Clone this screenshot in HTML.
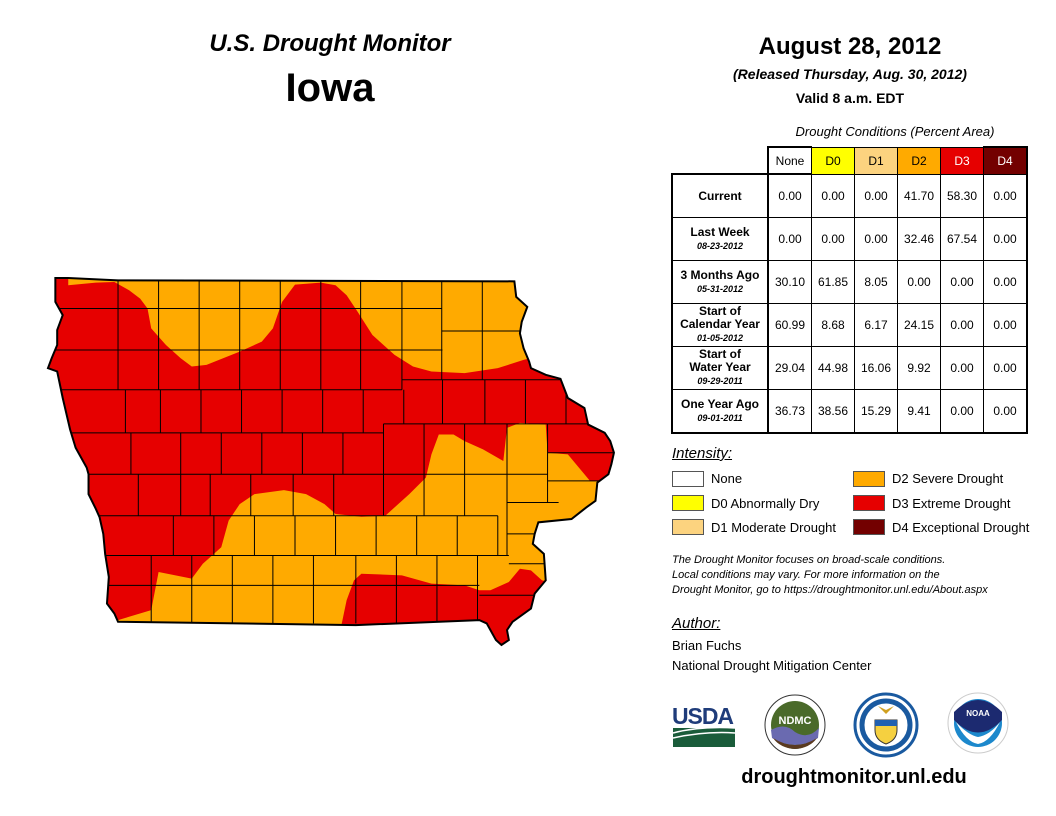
<!DOCTYPE html>
<html><head><meta charset="utf-8">
<style>
body{margin:0;width:1056px;height:816px;background:#fff;position:relative;overflow:hidden;font-family:"Liberation Sans",sans-serif;color:#000}
.t{position:absolute;white-space:nowrap}
table{position:absolute;left:671px;top:146px;border-collapse:collapse;font-size:12px}
td{border:1px solid #000;text-align:center;height:42px;width:42px;padding:0}
tr.h td{height:25px}
td.lab{width:94px;font-weight:bold;font-size:12px;line-height:13px}
td.lab i{font-size:9px;font-weight:bold}
.tb{border:2px solid #000}
.sw{position:absolute;width:30px;height:14px;border:1px solid #555}
.lg{position:absolute;font-size:13px}
</style></head><body>
<div class="t" style="left:180px;top:30px;width:300px;text-align:center;font-size:24px;font-weight:bold;font-style:italic">U.S. Drought Monitor</div>
<div class="t" style="left:180px;top:66px;width:300px;text-align:center;font-size:40px;font-weight:bold">Iowa</div>
<div class="t" style="left:700px;top:33px;width:300px;text-align:center;font-size:24px;font-weight:bold">August 28, 2012</div>
<div class="t" style="left:700px;top:66px;width:300px;text-align:center;font-size:14px;font-weight:bold;font-style:italic">(Released Thursday, Aug. 30, 2012)</div>
<div class="t" style="left:700px;top:90px;width:300px;text-align:center;font-size:14px;font-weight:bold">Valid 8 a.m. EDT</div>
<div class="t" style="left:760px;top:124px;width:270px;text-align:center;font-size:13px;font-style:italic">Drought Conditions (Percent Area)</div>

<table>
<tr class="h"><td style="border:none;border-bottom:2px solid #000"></td><td class="tb" style="border-right:1px solid #000">None</td><td style="background:#ffff00">D0</td><td style="background:#fcd37f">D1</td><td style="background:#ffaa00">D2</td><td style="background:#e60000;color:#fff">D3</td><td style="background:#730000;color:#fff;border-right:2px solid #000;border-top:2px solid #000">D4</td></tr>
<tr><td class="lab" style="border-left:2px solid #000;border-right:2px solid #000">Current</td><td>0.00</td><td>0.00</td><td>0.00</td><td>41.70</td><td>58.30</td><td style="border-right:2px solid #000">0.00</td></tr>
<tr><td class="lab" style="border-left:2px solid #000;border-right:2px solid #000">Last Week<br><i>08-23-2012</i></td><td>0.00</td><td>0.00</td><td>0.00</td><td>32.46</td><td>67.54</td><td style="border-right:2px solid #000">0.00</td></tr>
<tr><td class="lab" style="border-left:2px solid #000;border-right:2px solid #000">3 Months Ago<br><i>05-31-2012</i></td><td>30.10</td><td>61.85</td><td>8.05</td><td>0.00</td><td>0.00</td><td style="border-right:2px solid #000">0.00</td></tr>
<tr><td class="lab" style="border-left:2px solid #000;border-right:2px solid #000">Start of<br>Calendar Year<br><i>01-05-2012</i></td><td>60.99</td><td>8.68</td><td>6.17</td><td>24.15</td><td>0.00</td><td style="border-right:2px solid #000">0.00</td></tr>
<tr><td class="lab" style="border-left:2px solid #000;border-right:2px solid #000">Start of<br>Water Year<br><i>09-29-2011</i></td><td>29.04</td><td>44.98</td><td>16.06</td><td>9.92</td><td>0.00</td><td style="border-right:2px solid #000">0.00</td></tr>
<tr><td class="lab" style="border-left:2px solid #000;border-right:2px solid #000;border-bottom:2px solid #000">One Year Ago<br><i>09-01-2011</i></td><td style="border-bottom:2px solid #000">36.73</td><td style="border-bottom:2px solid #000">38.56</td><td style="border-bottom:2px solid #000">15.29</td><td style="border-bottom:2px solid #000">9.41</td><td style="border-bottom:2px solid #000">0.00</td><td style="border-right:2px solid #000;border-bottom:2px solid #000">0.00</td></tr>
</table>

<div class="t" style="left:672px;top:445px;font-size:15px;font-style:italic;text-decoration:underline">Intensity:</div>
<div class="sw" style="left:672px;top:471px;background:#fff"></div>
<div class="lg" style="left:711px;top:471px">None</div>
<div class="sw" style="left:672px;top:495px;background:#ffff00"></div>
<div class="lg" style="left:711px;top:496px">D0 Abnormally Dry</div>
<div class="sw" style="left:672px;top:519px;background:#fcd37f"></div>
<div class="lg" style="left:711px;top:520px">D1 Moderate Drought</div>
<div class="sw" style="left:853px;top:471px;background:#ffaa00"></div>
<div class="lg" style="left:892px;top:471px">D2 Severe Drought</div>
<div class="sw" style="left:853px;top:495px;background:#e60000"></div>
<div class="lg" style="left:892px;top:496px">D3 Extreme Drought</div>
<div class="sw" style="left:853px;top:519px;background:#730000"></div>
<div class="lg" style="left:892px;top:520px">D4 Exceptional Drought</div>

<div class="t" style="left:672px;top:553px;font-size:11px;font-style:italic;line-height:15px">The Drought Monitor focuses on broad-scale conditions.<br>Local conditions may vary. For more information on the<br>Drought Monitor, go to https://droughtmonitor.unl.edu/About.aspx</div>
<div class="t" style="left:672px;top:615px;font-size:15px;font-style:italic;text-decoration:underline">Author:</div>
<div class="t" style="left:672px;top:636px;font-size:13px;line-height:20px">Brian Fuchs<br>National Drought Mitigation Center</div>
<div class="t" style="left:700px;top:766px;width:308px;text-align:center;font-size:20px;font-weight:bold">droughtmonitor.unl.edu</div>

<svg width="1056" height="816" style="position:absolute;left:0;top:0">
<g>
<text x="672" y="724" font-family="Liberation Sans" font-size="23" font-weight="bold" fill="#1f3c7a" textLength="62">USDA</text>
<rect x="673" y="728" width="62" height="19" fill="#1a5c3a"/>
<path d="M673 733 Q700 726 735 728 M673 738 Q705 731 735 733" stroke="#fff" stroke-width="1.5" fill="none"/>
</g>
<g>
<circle cx="795" cy="725" r="30" fill="#fff" stroke="#333" stroke-width="1"/>
<circle cx="795" cy="725" r="24" fill="#4a6a2a"/>
<path d="M771 730 Q785 722 795 732 Q808 740 819 728 L818 738 Q795 752 772 738Z" fill="#6a6ab0"/>
<path d="M773 738 Q795 752 817 738 Q810 748 795 749 Q780 748 773 738Z" fill="#5a3a20"/>
<text x="795" y="724" font-size="11" font-weight="bold" fill="#fff" text-anchor="middle" font-family="Liberation Sans">NDMC</text>
</g>
<g>
<circle cx="886" cy="725" r="31" fill="#fff" stroke="#1a5aa0" stroke-width="3"/>
<circle cx="886" cy="725" r="24" fill="#fff" stroke="#1a5aa0" stroke-width="5"/>
<path d="M875 720 h22 v10 q0 10 -11 14 q-11 -4 -11 -14z" fill="#f5d040" stroke="#333" stroke-width="1"/>
<rect x="875" y="720" width="22" height="6" fill="#2060b0"/>
<path d="M878 706 l8 8 l8 -8 l-8 4z" fill="#d0a020"/>
</g>
<g>
<circle cx="978" cy="723" r="30" fill="#fff" stroke="#ccc" stroke-width="1"/>
<circle cx="978" cy="723" r="24" fill="#1c88cc"/>
<path d="M954 720 Q978 745 1002 720 L1002 712 Q990 700 978 700 Q966 700 954 712Z" fill="#1c2a70"/>
<path d="M956 722 Q968 735 978 737 Q990 735 1000 722 Q990 742 978 744 Q966 742 956 722Z" fill="#fff"/>
<text x="978" y="716" font-size="8" font-weight="bold" fill="#fff" text-anchor="middle" font-family="Liberation Sans">NOAA</text>
</g>
</svg>

<svg id="map" width="1056" height="816" style="position:absolute;left:0;top:0">
<defs><clipPath id="iaclip"><polygon id="clipPoly" transform="translate(40.6,262.1) scale(0.3687,0.3315)" points="40,48 75,48 210,55 1285,58 1290,105 1320,135 1305,180 1300,215 1310,260 1325,300 1330,320 1370,340 1410,352 1430,410 1475,440 1485,490 1530,515 1545,540 1555,575 1548,610 1540,640 1510,665 1505,720 1480,740 1440,775 1350,785 1340,820 1335,850 1365,880 1370,960 1340,1000 1330,1045 1280,1085 1265,1110 1270,1140 1250,1155 1235,1140 1210,1090 1190,1080 855,1095 210,1085 200,1060 180,1030 185,950 175,880 170,820 160,770 150,745 130,700 130,640 125,620 95,560 80,505 60,410 45,330 20,320 30,290 45,250 45,205 60,160 40,120"/></clipPath></defs>
<g transform="translate(40.6,262.1) scale(0.3687,0.3315)">
<polygon fill="#e60000" points="40,48 75,48 210,55 1285,58 1290,105 1320,135 1305,180 1300,215 1310,260 1325,300 1330,320 1370,340 1410,352 1430,410 1475,440 1485,490 1530,515 1545,540 1555,575 1548,610 1540,640 1510,665 1505,720 1480,740 1440,775 1350,785 1340,820 1335,850 1365,880 1370,960 1340,1000 1330,1045 1280,1085 1265,1110 1270,1140 1250,1155 1235,1140 1210,1090 1190,1080 855,1095 210,1085 200,1060 180,1030 185,950 175,880 170,820 160,770 150,745 130,700 130,640 125,620 95,560 80,505 60,410 45,330 20,320 30,290 45,250 45,205 60,160 40,120"/>
</g>
<g clip-path="url(#iaclip)">
<g transform="translate(40.6,262.1) scale(0.3687,0.3315)">
<polygon fill="#ffaa00" points="75,40 1400,40 1400,270 1310,295 1240,320 1150,335 1060,330 1010,315 960,280 900,220 860,150 830,100 800,70 760,62 690,68 655,120 630,200 600,240 540,270 450,310 410,315 380,290 340,250 300,200 290,140 270,110 240,85 200,60 150,62 75,70"/>
<polygon fill="#ffaa00" points="210,1080 300,1050 320,935 410,955 440,910 490,860 510,780 540,730 580,700 660,688 720,700 770,730 800,760 870,768 935,765 1000,700 1045,650 1060,580 1080,520 1120,520 1150,540 1200,565 1255,600 1265,500 1300,485 1370,490 1375,575 1430,580 1460,620 1490,660 1560,660 1560,1000 1360,960 1330,930 1300,925 1270,965 1220,990 1190,990 1150,975 1060,970 980,945 870,940 850,960 830,1020 815,1100 200,1100"/>
<path fill="none" stroke="#000" stroke-width="1" vector-effect="non-scaling-stroke" d="
M40 140 H1088 M1088 208 H1310 M40 265 H1090 M980 355 H1420 M40 385 H980 M40 515 H930 M930 488 H1490 M40 640 H1375 M1375 575 H1560 M1375 660 H1520 M1265 725 H1405 M40 765 H1240 M1265 820 H1340 M40 885 H1270 M1270 910 H1370 M40 975 H1190 M1190 1005 H1340
M210 48V385 M320 48V385 M430 48V385 M540 48V385 M650 48V385 M760 48V385 M868 48V385 M980 48V385 M1088 48V355 M1198 48V355
M1090 355V488 M1205 355V488 M1315 355V488 M1425 355V488
M230 385V515 M325 385V515 M435 385V515 M545 385V515 M655 385V515 M765 385V515 M875 385V515 M985 385V488
M245 515V640 M380 515V640 M490 515V640 M600 515V640 M710 515V640 M820 515V640 M930 488V765 M1040 488V765 M1150 488V765 M1265 488V885 M1375 488V725
M265 640V765 M380 640V765 M460 640V765 M570 640V765 M685 640V765 M795 640V765
M360 765V885 M470 765V885 M580 765V885 M690 765V885 M800 765V885 M910 765V885 M1020 765V885 M1130 765V885 M1240 765V885
M300 885V1090 M410 885V1090 M520 885V1090 M630 885V1090 M740 885V1090 M855 885V1090 M965 885V1090 M1075 885V1090 M1185 885V1090"/>
</g></g>
<g transform="translate(40.6,262.1) scale(0.3687,0.3315)">
<use href="#clipPoly" transform="translate(-40.6,-262.1) scale(2.712,3.017)" fill="none"/>
<polygon fill="none" stroke="#000" stroke-width="2" vector-effect="non-scaling-stroke" points="40,48 75,48 210,55 1285,58 1290,105 1320,135 1305,180 1300,215 1310,260 1325,300 1330,320 1370,340 1410,352 1430,410 1475,440 1485,490 1530,515 1545,540 1555,575 1548,610 1540,640 1510,665 1505,720 1480,740 1440,775 1350,785 1340,820 1335,850 1365,880 1370,960 1340,1000 1330,1045 1280,1085 1265,1110 1270,1140 1250,1155 1235,1140 1210,1090 1190,1080 855,1095 210,1085 200,1060 180,1030 185,950 175,880 170,820 160,770 150,745 130,700 130,640 125,620 95,560 80,505 60,410 45,330 20,320 30,290 45,250 45,205 60,160 40,120"/>
</g>
</svg>
</body></html>
